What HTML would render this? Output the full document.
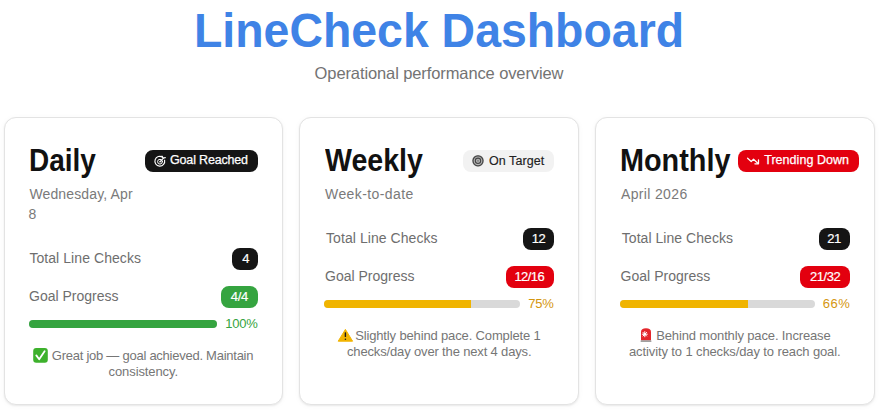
<!DOCTYPE html>
<html><head><meta charset="utf-8"><style>
*{box-sizing:border-box;margin:0;padding:0}
html,body{width:882px;height:417px;overflow:hidden;background:#fff}
body{font-family:"Liberation Sans",sans-serif;position:relative;color:#111}
.t{position:absolute;white-space:nowrap;line-height:1}
.card{position:absolute;top:117px;height:288px;border:1px solid #e3e3e3;border-radius:12px;background:#fff;box-shadow:0 1px 2px rgba(0,0,0,0.07),0 1px 6px rgba(0,0,0,0.035)}
.bdg{position:absolute;height:22px;border-radius:8px}
.dark{background:#151515}
.red{background:#e3000f}
.green{background:#35a440}
.light{background:#f2f2f2}
.track{position:absolute;height:8px;border-radius:4px;background:#d9d9d9;overflow:hidden}
.fill{position:absolute;left:0;top:0;bottom:0}
svg{position:absolute;overflow:visible}
</style></head><body>
<div class="card" style="left:4px;width:279px"></div>
<div class="card" style="left:299px;width:280px"></div>
<div class="card" style="left:595px;width:280px"></div>
<div class="bdg dark" style="left:145px;top:150px;width:113px"></div>
<div class="bdg light" style="left:463px;top:150px;width:91px"></div>
<div class="bdg red" style="left:738px;top:150px;width:121px"></div>
<div class="bdg dark" style="left:232px;top:248px;width:26px"></div>
<div class="bdg green" style="left:221px;top:286px;width:37px"></div>
<div class="bdg dark" style="left:523px;top:228px;width:31px"></div>
<div class="bdg red" style="left:506px;top:266px;width:48px"></div>
<div class="bdg dark" style="left:819px;top:228px;width:31px"></div>
<div class="bdg red" style="left:800px;top:266px;width:50px"></div>
<div class="track" style="left:29px;top:320px;width:188px"><div class="fill" style="width:188px;background:#35a440"></div></div>
<div class="track" style="left:324px;top:300px;width:196px"><div class="fill" style="width:147px;background:#f0b400"></div></div>
<div class="track" style="left:620px;top:300px;width:195px"><div class="fill" style="width:128px;background:#f0b400"></div></div>
<svg width="882" height="417" viewBox="0 0 882 417" style="left:0;top:0">
<!-- goal reached dart icon -->
<g fill="none" stroke="#fff" stroke-linecap="round">
 <path d="M162.6 157.2 A4.9 4.9 0 1 0 164.6 160.2" stroke-width="1.15"/>
 <circle cx="160" cy="161.7" r="2.4" stroke-width="1"/>
 <path d="M160.1 161.6 L163.3 158.3" stroke-width="1.1"/>
 <path d="M161.9 156.2 L163.2 158.1 L165.3 157.6" stroke-width="1.2"/>
</g>
<circle cx="160" cy="161.7" r="0.7" fill="#fff"/>
<!-- on target icon -->
<circle cx="478" cy="160.8" r="5.8" fill="#b4b4b4"/>
<g fill="none" stroke="#454545">
 <circle cx="478" cy="160.8" r="5.0" stroke-width="1.2"/>
 <circle cx="478" cy="160.8" r="2.7" stroke-width="1.1"/>
</g>
<circle cx="478" cy="160.8" r="1.1" fill="#8a8a8a"/>
<!-- trending down arrow -->
<g fill="none" stroke="#fff" stroke-width="1.3" stroke-linecap="round" stroke-linejoin="round">
 <path d="M747.6 158.3 L751.2 161.6 L753.5 159.3 L758.1 163.4"/>
 <path d="M758.5 160 L758.5 163.8 L754.9 163.8"/>
</g>
<!-- check emoji -->
<rect x="33.2" y="348" width="14.6" height="14.8" rx="3" fill="#3db12c"/>
<path d="M36.3 355.4 L39.2 359.2 L44.6 351.2" fill="none" stroke="#fff" stroke-width="1.8" stroke-linecap="round" stroke-linejoin="round"/>
<!-- warning emoji -->
<path d="M345.4 329.4 L352.6 341.2 L338.2 341.2 Z" fill="#f2b400" stroke="#f2b400" stroke-width="1" stroke-linejoin="round"/>
<rect x="344.7" y="332.2" width="1.4" height="4.8" rx="0.6" fill="#1a1a1a"/>
<circle cx="345.4" cy="339.2" r="0.8" fill="#1a1a1a"/>
<!-- siren emoji -->
<path d="M641 340.5 L641 332 Q641 328.3 646 328.3 Q651 328.3 651 332 L651 340.5 Z" fill="#e4262c"/>
<rect x="640.6" y="340.2" width="10.8" height="1.9" rx="0.5" fill="#a0a0a0"/>
<g stroke="#fff" stroke-width="1" stroke-linecap="round">
 <path d="M644.8 331.6 L644.8 336.8 M642.3 334.2 L647.3 334.2 M643 332.4 L646.6 336 M646.6 332.4 L643 336"/>
</g>
<circle cx="644.8" cy="334.2" r="1.2" fill="#fff"/>
</svg>
<div class="t" style="left:193.80px;top:6.00px;font-size:48.5px;color:#3f83e6;letter-spacing:0.000px;font-weight:bold;transform:scaleX(0.9570);transform-origin:0 0">LineCheck Dashboard</div>
<div class="t" style="left:314.60px;top:65.00px;font-size:16.5px;color:#737373;letter-spacing:-0.106px">Operational performance overview</div>
<div class="t" style="left:29.40px;top:145.00px;font-size:31px;color:#111111;letter-spacing:0.000px;font-weight:bold;transform:scaleX(0.9027);transform-origin:0 0">Daily</div>
<div class="t" style="left:325.40px;top:145.00px;font-size:31px;color:#111111;letter-spacing:0.000px;font-weight:bold;transform:scaleX(0.9210);transform-origin:0 0">Weekly</div>
<div class="t" style="left:619.80px;top:145.00px;font-size:31px;color:#111111;letter-spacing:0.000px;font-weight:bold;transform:scaleX(0.9299);transform-origin:0 0">Monthly</div>
<div class="t" style="left:29.40px;top:187.00px;font-size:14px;color:#7a7a7a;letter-spacing:0.136px">Wednesday, Apr</div>
<div class="t" style="left:28.40px;top:207.00px;font-size:14px;color:#7a7a7a;letter-spacing:0.000px">8</div>
<div class="t" style="left:325.00px;top:187.00px;font-size:14px;color:#7a7a7a;letter-spacing:0.416px">Week-to-date</div>
<div class="t" style="left:621.00px;top:187.00px;font-size:14px;color:#7a7a7a;letter-spacing:0.348px">April 2026</div>
<div class="t" style="left:29.40px;top:251.00px;font-size:14px;color:#6e6e6e;letter-spacing:0.068px">Total Line Checks</div>
<div class="t" style="left:29.00px;top:289.00px;font-size:14px;color:#6e6e6e;letter-spacing:-0.007px">Goal Progress</div>
<div class="t" style="left:326.00px;top:231.00px;font-size:14px;color:#6e6e6e;letter-spacing:0.069px">Total Line Checks</div>
<div class="t" style="left:325.00px;top:269.00px;font-size:14px;color:#6e6e6e;letter-spacing:0.000px">Goal Progress</div>
<div class="t" style="left:621.80px;top:231.00px;font-size:14px;color:#6e6e6e;letter-spacing:0.045px">Total Line Checks</div>
<div class="t" style="left:620.60px;top:269.00px;font-size:14px;color:#6e6e6e;letter-spacing:0.021px">Goal Progress</div>
<div class="t" style="left:225.20px;top:317.00px;font-size:13px;color:#35a440;letter-spacing:-0.236px">100%</div>
<div class="t" style="left:528.20px;top:297.00px;font-size:13px;color:#d4960f;letter-spacing:-0.200px">75%</div>
<div class="t" style="left:822.80px;top:297.00px;font-size:13px;color:#d4960f;letter-spacing:0.450px">66%</div>
<div class="t" style="left:51.80px;top:349.00px;font-size:13px;color:#767676;letter-spacing:-0.253px">Great job — goal achieved. Maintain</div>
<div class="t" style="left:108.60px;top:365.00px;font-size:13px;color:#767676;letter-spacing:-0.104px">consistency.</div>
<div class="t" style="left:355.20px;top:329.00px;font-size:13px;color:#767676;letter-spacing:-0.146px">Slightly behind pace. Complete 1</div>
<div class="t" style="left:347.00px;top:345.00px;font-size:13px;color:#767676;letter-spacing:-0.153px">checks/day over the next 4 days.</div>
<div class="t" style="left:656.20px;top:329.00px;font-size:13px;color:#767676;letter-spacing:-0.143px">Behind monthly pace. Increase</div>
<div class="t" style="left:629.00px;top:345.00px;font-size:13px;color:#767676;letter-spacing:-0.117px">activity to 1 checks/day to reach goal.</div>
<div class="t" style="left:170.00px;top:154.00px;font-size:12.5px;color:#ffffff;letter-spacing:-0.167px;-webkit-text-stroke:0.25px #ffffff">Goal Reached</div>
<div class="t" style="left:489.00px;top:155.00px;font-size:12.5px;color:#222222;letter-spacing:0.057px;-webkit-text-stroke:0.15px #222222">On Target</div>
<div class="t" style="left:764.20px;top:154.00px;font-size:12.5px;color:#ffffff;letter-spacing:0.041px;-webkit-text-stroke:0.25px #ffffff">Trending Down</div>
<div class="t" style="left:242.30px;top:252.00px;font-size:13px;color:#ffffff;letter-spacing:0.000px;-webkit-text-stroke:0.2px #ffffff">4</div>
<div class="t" style="left:230.85px;top:290.00px;font-size:13px;color:#ffffff;letter-spacing:-0.300px;-webkit-text-stroke:0.2px #ffffff">4/4</div>
<div class="t" style="left:531.70px;top:232.00px;font-size:13px;color:#ffffff;letter-spacing:-0.500px;-webkit-text-stroke:0.2px #ffffff">12</div>
<div class="t" style="left:514.40px;top:270.00px;font-size:13px;color:#ffffff;letter-spacing:-0.550px;-webkit-text-stroke:0.2px #ffffff">12/16</div>
<div class="t" style="left:827.30px;top:232.00px;font-size:13px;color:#ffffff;letter-spacing:-0.500px;-webkit-text-stroke:0.2px #ffffff">21</div>
<div class="t" style="left:810.00px;top:270.00px;font-size:13px;color:#ffffff;letter-spacing:-0.450px;-webkit-text-stroke:0.2px #ffffff">21/32</div>
</body></html>
